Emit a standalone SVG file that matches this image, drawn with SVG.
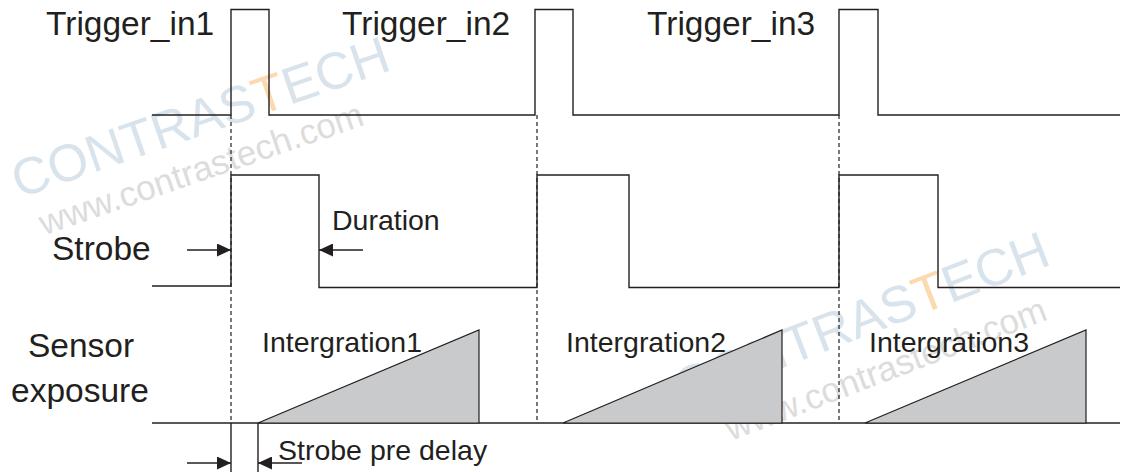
<svg xmlns="http://www.w3.org/2000/svg" width="1125" height="472" viewBox="0 0 1125 472">
<defs>
<style>
.sig{fill:none;stroke:#231f20;stroke-width:1.4}
.dash{fill:none;stroke:#231f20;stroke-width:1.2;stroke-dasharray:4 3}
.ar{fill:none;stroke:#231f20;stroke-width:1.3}
.tri{fill:#c9cacc;stroke:#231f20;stroke-width:1.2}
.big{font-family:"Liberation Sans",Arial,sans-serif;font-size:33.5px;fill:#231f20}
.mid{font-family:"Liberation Sans",Arial,sans-serif;font-size:28.5px;fill:#231f20}
.wm1{font-family:"Liberation Sans",Arial,sans-serif;font-size:52px;fill:#d9e3ec}
.wm2{font-family:"Liberation Sans",Arial,sans-serif;font-size:35px;fill:#dcdcdc}
.orange{fill:#fcd9ae}
</style>
<marker id="ah" markerWidth="14" markerHeight="13" refX="14" refY="6.5" orient="auto" markerUnits="userSpaceOnUse">
<path d="M0,0 L14,6.5 L0,13 Z" fill="#231f20"/>
</marker>
</defs>
<rect width="1125" height="472" fill="#ffffff"/>
<g id="watermark">
<text class="wm1" text-anchor="middle" transform="translate(206,134) rotate(-19)">CONTRAS<tspan class="orange">T</tspan>ECH</text>
<text class="wm2" text-anchor="middle" transform="translate(205,180) rotate(-19)">www.contrastech.com</text>
<text class="wm1" text-anchor="middle" transform="translate(868,335) rotate(-21)">CONTRAS<tspan class="orange">T</tspan>ECH</text>
<text class="wm2" text-anchor="middle" transform="translate(890,380) rotate(-21)">www.contrastech.com</text>
</g>
<g id="connectors">
<line class="dash" x1="231" y1="115" x2="231" y2="423"/>
<line class="dash" x1="537" y1="115" x2="537" y2="423"/>
<line class="dash" x1="839" y1="115" x2="839" y2="423"/>
<line class="sig" x1="231" y1="423" x2="231" y2="472"/>
<line class="sig" x1="258" y1="423" x2="258" y2="472"/>
<line class="ar" x1="187" y1="250" x2="231" y2="250" marker-end="url(#ah)"/>
<line class="ar" x1="363" y1="250" x2="319" y2="250" marker-end="url(#ah)"/>
<line class="ar" x1="187" y1="463" x2="231" y2="463" marker-end="url(#ah)"/>
<line class="ar" x1="302" y1="463" x2="258" y2="463" marker-end="url(#ah)"/>
</g>
<g id="trigger">
<path class="sig" d="M152,115 H231 V9.5 H269 V115 H535 V9.5 H573 V115 H839 V9.5 H878 V115 H1120"/>
<text class="big" x="46" y="35">Trigger_in1</text>
<text class="big" x="342" y="35">Trigger_in2</text>
<text class="big" x="647" y="35">Trigger_in3</text>
</g>
<g id="strobe">
<path class="sig" d="M152,286 H231 V175 H319 V287.5 H537 V175 H629 V287.5 H839 V175 H938 V287.5 H1120"/>
<text class="big" x="52" y="260">Strobe</text>
<text class="mid" x="332" y="230">Duration</text>
</g>
<g id="sensor">
<line class="sig" x1="152" y1="423" x2="1120" y2="423"/>
<path class="tri" d="M258,423 L479,330 L479,423 Z"/>
<path class="tri" d="M563,423 L782,330 L782,423 Z"/>
<path class="tri" d="M865,423 L1086,330 L1086,423 Z"/>
<text class="big" x="28" y="357">Sensor</text>
<text class="big" x="11" y="402">exposure</text>
<text class="mid" x="262" y="352">Intergration1</text>
<text class="mid" x="566" y="352">Intergration2</text>
<text class="mid" x="869" y="352">Intergration3</text>
<text class="mid" x="278" y="460">Strobe pre delay</text>
</g>
</svg>
